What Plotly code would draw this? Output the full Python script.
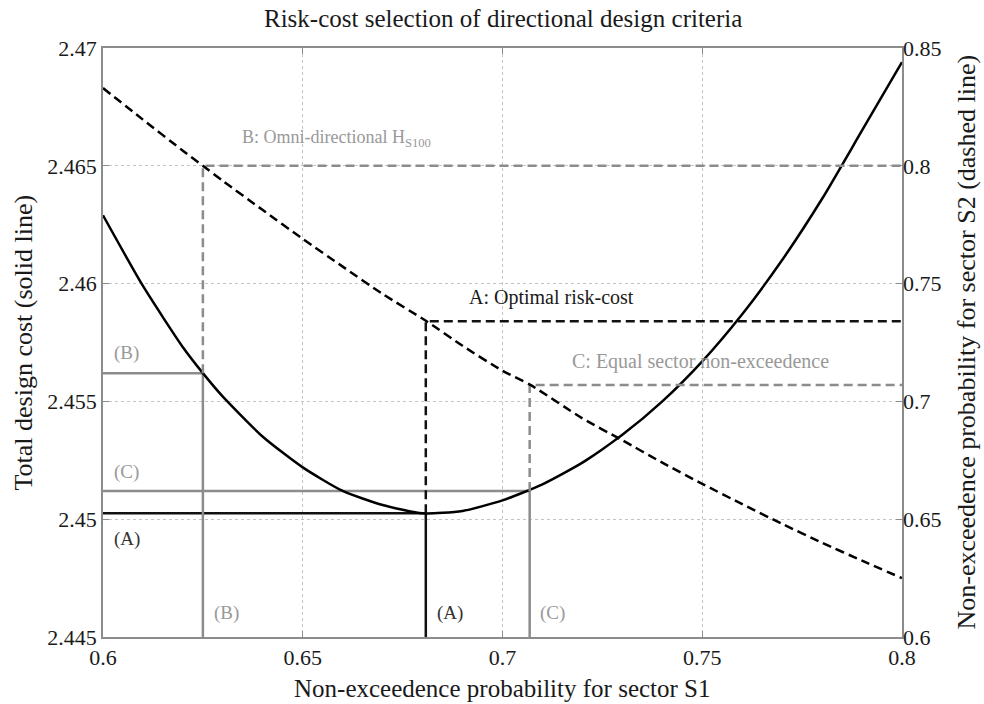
import plotly.graph_objects as go

# S1 non-exceedence probability grid
x_s1 = [0.600, 0.610, 0.620, 0.625, 0.630, 0.640, 0.650, 0.660, 0.670, 0.680, 0.690,
        0.700, 0.710, 0.720, 0.730, 0.740, 0.750, 0.760, 0.770, 0.780, 0.790, 0.800]
# total design cost (solid line, left axis)
cost = [2.4629, 2.4599, 2.4573, 2.4562, 2.4552, 2.4535, 2.4522, 2.4512, 2.4506, 2.45025, 2.45035,
        2.4508, 2.45148, 2.4524, 2.45358, 2.4550, 2.4567, 2.4587, 2.4610, 2.4636, 2.4665, 2.4694]
# S1 grid for the sector S2 curve
x_s2 = [0.600, 0.610, 0.620, 0.625, 0.630, 0.640, 0.650, 0.660, 0.670, 0.681, 0.690,
        0.700, 0.707, 0.720, 0.730, 0.740, 0.750, 0.760, 0.770, 0.780, 0.790, 0.800]
# non-exceedence probability for sector S2 (dashed line, right axis)
p_s2 = [0.833, 0.8196, 0.8064, 0.800, 0.7936, 0.7812, 0.769, 0.7572, 0.7456, 0.734, 0.7236,
        0.713, 0.707, 0.6928, 0.6835, 0.674, 0.665, 0.6564, 0.648, 0.640, 0.6324, 0.625]

# selected criteria
crit_names = ["A", "B", "C"]
crit_s1 = [0.6808, 0.625, 0.7068]
crit_cost = [2.45025, 2.4562, 2.4512]
crit_s2 = [0.734, 0.800, 0.707]
crit_text = ["A: Optimal risk-cost", "B: Omni-directional H<sub>S100</sub>",
             "C: Equal sector non-exceedence"]

x_range = [0.6, 0.8]
y1_range = [2.445, 2.47]
y2_range = [0.6, 0.85]
x_ticks = [0.6, 0.65, 0.7, 0.75, 0.8]
x_labels = ["0.6", "0.65", "0.7", "0.75", "0.8"]
y1_ticks = [2.445, 2.45, 2.455, 2.46, 2.465, 2.47]
y1_labels = ["2.445", "2.45", "2.455", "2.46", "2.465", "2.47"]
y2_ticks = [0.6, 0.65, 0.7, 0.75, 0.8, 0.85]
y2_labels = ["0.6", "0.65", "0.7", "0.75", "0.8", "0.85"]

FONT = "Liberation Serif"
GRAY = "#8c8c8c"
TXTGRAY = "#999999"
DARK = "#1a1a1a"
crit_colors = {"A": "#111111", "B": GRAY, "C": GRAY}
DASH = "9px,5px"
LW = 2.5


def cost_to_p(c):
    return y2_range[0] + (c - y1_range[0]) / (y1_range[1] - y1_range[0]) * (y2_range[1] - y2_range[0])


fig = go.Figure()

# guide lines for each criterion
for n, xs, c, p in zip(crit_names, crit_s1, crit_cost, crit_s2):
    col = crit_colors[n]
    fig.add_trace(go.Scatter(x=[x_range[0], xs, xs], y=[c, c, y1_range[0]], mode="lines",
                             line=dict(color=col, width=LW), yaxis="y", showlegend=False,
                             hoverinfo="skip"))
    fig.add_trace(go.Scatter(x=[xs, xs, x_range[1]], y=[cost_to_p(c), p, p], mode="lines",
                             line=dict(color=col, width=LW, dash=DASH), yaxis="y2",
                             showlegend=False, hoverinfo="skip"))

# main curves
fig.add_trace(go.Scatter(x=x_s1, y=cost, mode="lines",
                         line=dict(color="black", width=LW, shape="spline", smoothing=0.6),
                         yaxis="y", showlegend=False))
fig.add_trace(go.Scatter(x=x_s2, y=p_s2, mode="lines",
                         line=dict(color="black", width=LW, dash=DASH, shape="spline", smoothing=0.6),
                         yaxis="y2", showlegend=False))

annos = []
LBL = 20
annos.append(dict(x=0.691, y=0.744, xref="x", yref="y2", text=crit_text[0], showarrow=False,
                  xanchor="left", yanchor="middle", font=dict(family=FONT, size=LBL, color=DARK)))
annos.append(dict(x=0.6343, y=0.8115, xref="x", yref="y2", text=crit_text[1], showarrow=False,
                  xanchor="left", yanchor="middle", font=dict(family=FONT, size=18, color=TXTGRAY)))
annos.append(dict(x=0.7168, y=0.7168, xref="x", yref="y2", text=crit_text[2], showarrow=False,
                  xanchor="left", yanchor="middle", font=dict(family=FONT, size=LBL, color=TXTGRAY)))

SM = 19
annos.append(dict(x=0.6022, y=2.45706, xref="x", yref="y", text="(B)", showarrow=False,
                  xanchor="left", yanchor="middle", font=dict(family=FONT, size=SM, color=TXTGRAY)))
annos.append(dict(x=0.6022, y=2.4520, xref="x", yref="y", text="(C)", showarrow=False,
                  xanchor="left", yanchor="middle", font=dict(family=FONT, size=SM, color=TXTGRAY)))
annos.append(dict(x=0.6022, y=2.44916, xref="x", yref="y", text="(A)", showarrow=False,
                  xanchor="left", yanchor="middle", font=dict(family=FONT, size=SM, color="#333333")))
for xs, n in zip(crit_s1, crit_names):
    annos.append(dict(x=xs + 0.0022, y=2.4460, xref="x", yref="y", text="(" + n + ")",
                      showarrow=False, xanchor="left", yanchor="middle",
                      font=dict(family=FONT, size=SM, color="#333333" if n == "A" else TXTGRAY)))

annos.append(dict(x=0.5, y=1.0, xref="paper", yref="paper", yshift=30,
                  text="Risk-cost selection of directional design criteria",
                  showarrow=False, xanchor="center", yanchor="middle",
                  font=dict(family=FONT, size=25, color=DARK)))
annos.append(dict(x=0.5, y=0, xref="paper", yref="paper", yshift=-67,
                  text="Non-exceedence probability for sector S1", showarrow=False,
                  xanchor="center", yanchor="bottom", font=dict(family=FONT, size=25, color=DARK)))
annos.append(dict(x=0, y=0.5, xref="paper", yref="paper", xshift=-80,
                  text="Total design cost (solid line)", showarrow=False, textangle=-90,
                  xanchor="center", yanchor="middle", font=dict(family=FONT, size=26, color=DARK)))
annos.append(dict(x=1, y=0.5, xref="paper", yref="paper", xshift=64,
                  text="Non-exceedence probability for sector S2 (dashed line)", showarrow=False,
                  textangle=-90, xanchor="center", yanchor="middle",
                  font=dict(family=FONT, size=26, color=DARK)))

grid = dict(showgrid=True, gridcolor="#c4c4c4", griddash="dot", gridwidth=1)
TICKF = dict(family=FONT, size=22, color=DARK)

fig.update_layout(
    width=984, height=704,
    margin=dict(l=103, r=82, t=48, b=67),
    paper_bgcolor="white", plot_bgcolor="white",
    font=dict(family=FONT, size=22, color=DARK),
    xaxis=dict(range=x_range, tickvals=x_ticks, ticktext=x_labels, tickfont=TICKF,
               showline=True, linecolor=GRAY, linewidth=1.5, mirror="ticks",
               ticks="inside", ticklen=6, tickcolor=GRAY, zeroline=False, **grid),
    yaxis=dict(range=y1_range, tickvals=y1_ticks, ticktext=y1_labels, tickfont=TICKF,
               showline=True, linecolor=GRAY, linewidth=1.5, mirror=True,
               ticks="inside", ticklen=6, tickcolor=GRAY, zeroline=False, **grid),
    yaxis2=dict(range=y2_range, tickvals=y2_ticks, ticktext=y2_labels, tickfont=TICKF,
                overlaying="y", side="right", showgrid=False, showline=False,
                ticks="inside", ticklen=6, tickcolor=GRAY, zeroline=False),
    annotations=annos,
)

fig.write_html("out.html")
